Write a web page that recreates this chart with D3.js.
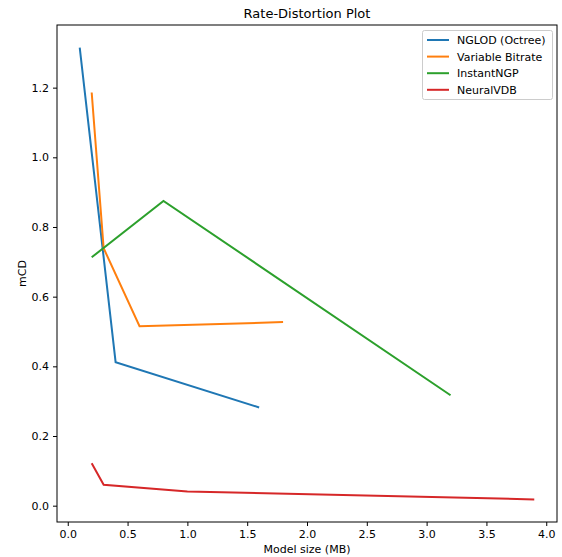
<!DOCTYPE html>
<html><head><meta charset="utf-8">
<script src="https://cdn.jsdelivr.net/npm/d3@7"></script>
<style>body{margin:0;background:#fff}svg{display:block;font-family:"DejaVu Sans",sans-serif}</style>
</head><body><svg id="c" width="562" height="557"></svg>
<script>
const seriesNames = ["NGLOD (Octree)", "Variable Bitrate", "InstantNGP", "NeuralVDB"];
const colors = ["#1f77b4", "#ff7f0e", "#2ca02c", "#d62728"];
const ngX = [0.1, 0.4, 1.6];
const ngY = [1.315, 0.412, 0.282];
const vbX = [0.2, 0.3, 0.6, 1.8];
const vbY = [1.186, 0.739, 0.515, 0.527];
const inX = [0.2, 0.8, 3.2];
const inY = [0.713, 0.875, 0.317];
const nvX = [0.2, 0.3, 1.0, 3.9];
const nvY = [0.122, 0.060, 0.041, 0.018];
const xTicks = [0.0, 0.5, 1.0, 1.5, 2.0, 2.5, 3.0, 3.5, 4.0];
const yTicks = [0.0, 0.2, 0.4, 0.6, 0.8, 1.0, 1.2];

const allX = [ngX, vbX, inX, nvX];
const allY = [ngY, vbY, inY, nvY];
const svg = d3.select("#c");
const L = 57, R = 557, T = 25, B = 522;
const xs = allX.flat(), ys = allY.flat();
const xmin = d3.min(xs), xmax = d3.max(xs), ymin = d3.min(ys), ymax = d3.max(ys);
const xm = (xmax - xmin) * 0.05, ym = (ymax - ymin) * 0.05;
const x = d3.scaleLinear().domain([xmin - xm, xmax + xm]).range([L, R]);
const y = d3.scaleLinear().domain([ymin - ym, ymax + ym]).range([B, T]);

const line = d3.line().x(d => x(d[0])).y(d => y(d[1]));
seriesNames.forEach((n, i) => {
  svg.append("path").datum(d3.zip(allX[i], allY[i])).attr("d", line)
    .attr("fill", "none").attr("stroke", colors[i]).attr("stroke-width", 2)
    .attr("stroke-linejoin", "miter").attr("stroke-linecap", "butt");
});

const fmt = d3.format(".1f");
const xa = svg.append("g").attr("transform", `translate(0,${B})`)
  .call(d3.axisBottom(x).tickValues(xTicks).tickFormat(fmt).tickSize(4).tickPadding(4));
const ya = svg.append("g").attr("transform", `translate(${L},0)`)
  .call(d3.axisLeft(y).tickValues(yTicks).tickFormat(fmt).tickSize(4).tickPadding(4));
[xa, ya].forEach(a => {
  a.select(".domain").remove();
  a.selectAll("text").attr("font-size", 11).attr("fill", "#000").attr("font-family", "DejaVu Sans");
  a.selectAll("line").attr("stroke", "#000").attr("stroke-width", 1);
});
svg.append("rect").attr("x", L).attr("y", T).attr("width", R - L).attr("height", B - T)
  .attr("fill", "none").attr("stroke", "#000").attr("stroke-width", 1);

svg.append("text").attr("x", (L + R) / 2).attr("y", 18).attr("text-anchor", "middle")
  .attr("font-size", 13).text("Rate-Distortion Plot");
svg.append("text").attr("x", (L + R) / 2).attr("y", 553).attr("text-anchor", "middle")
  .attr("font-size", 11).text("Model size (MB)");
svg.append("text").attr("transform", `translate(26,${(T + B) / 2}) rotate(-90)`).attr("text-anchor", "middle")
  .attr("font-size", 11).text("mCD");

const lg = svg.append("g");
lg.append("rect").attr("x", 422.5).attr("y", 30.5).attr("width", 130).attr("height", 69)
  .attr("rx", 2).attr("fill", "#fff").attr("fill-opacity", 0.8).attr("stroke", "#ccc");
seriesNames.forEach((n, i) => {
  const yy = 40 + i * 16.6;
  lg.append("line").attr("x1", 427).attr("x2", 449).attr("y1", yy).attr("y2", yy)
    .attr("stroke", colors[i]).attr("stroke-width", 2);
  lg.append("text").attr("x", 457).attr("y", yy + 4).attr("font-size", 11).text(n);
});
</script></body></html>
